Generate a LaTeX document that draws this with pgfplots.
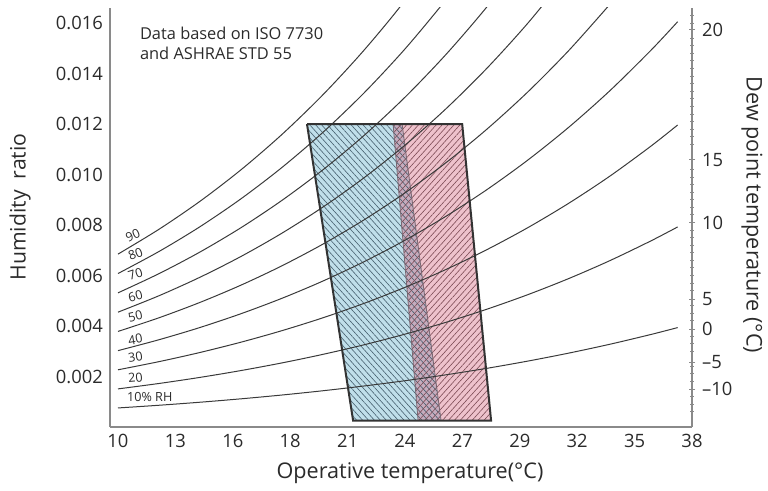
\documentclass[border=0pt]{standalone}
\usepackage{pgfplots}
\pgfplotsset{compat=1.18}
\usetikzlibrary{patterns.meta}
\usepackage{fontspec}
\setmainfont{Open Sans}

\definecolor{txt}{HTML}{2B2B2B}
\definecolor{rhline}{HTML}{3A3A3A}
\definecolor{axline}{HTML}{8A8A8A}
\definecolor{zoneblue}{RGB}{192,223,234}
\definecolor{zonepink}{RGB}{238,194,204}
\definecolor{zonemix}{RGB}{198,172,190}
\definecolor{hatchblue}{RGB}{70,95,110}
\definecolor{hatchpink}{RGB}{125,75,85}
\definecolor{edge}{HTML}{333333}

\pgfplotsset{rh/.style={rhline, line width=0.5pt, smooth, mark=none, solid}}

\begin{document}
\begin{tikzpicture}
\begin{axis}[
    name=main,
    width=291pt, height=209.5pt, scale only axis,
    xmin=9.61, xmax=38, ymin=0, ymax=0.0166,
    axis x line*=bottom, axis y line*=left,
    axis line style={axline, line width=0.6pt, -},
    every outer x axis line/.append style={-},
    every outer y axis line/.append style={-},
    major tick length=0pt,
    xtick={10,12.8,15.6,18.4,21.2,24,26.8,29.6,32.4,35.2,38},
    xticklabels={10,13,16,18,21,24,27,29,32,35,38},
    ytick={0.002,0.004,0.006,0.008,0.010,0.012,0.014,0.016},
    yticklabels={0.002,0.004,0.006,0.008,0.010,0.012,0.014,0.016},
    tick label style={font=\fontsize{9.2}{11}\selectfont, text=txt},
    xlabel={Operative temperature(°C)},
    xlabel style={at={(axis description cs:0.5155,-0.110)}, anchor=center,
                  font=\fontsize{10.8}{12}\selectfont, text=txt},
    ylabel={Humidity\ \ ratio},
    ylabel style={at={(axis description cs:-0.1546,0.525)}, anchor=center,
                  font=\fontsize{10.6}{12}\selectfont, text=txt},
    clip mode=individual,
]
% comfort zones
\addplot[draw=none, fill=zoneblue, sharp plot] coordinates {(19.22,0.012) (23.86,0.012) (25.76,0.00025) (21.47,0.00025)};
\addplot[draw=none, fill=zonepink, sharp plot] coordinates {(23.42,0.012) (26.79,0.012) (28.20,0.00025) (24.64,0.00025)};
\addplot[draw=none, fill=zonemix, sharp plot] coordinates {(23.42,0.012) (23.86,0.012) (25.76,0.00025) (24.64,0.00025)};
\addplot[draw=none, sharp plot, pattern={Lines[angle=-48,distance=2.2pt,line width=0.3pt]}, pattern color=hatchblue]
    coordinates {(19.22,0.012) (23.86,0.012) (25.76,0.00025) (21.47,0.00025)};
\addplot[draw=none, sharp plot, pattern={Lines[angle=48,distance=2.2pt,line width=0.3pt]}, pattern color=hatchpink]
    coordinates {(23.42,0.012) (26.79,0.012) (28.20,0.00025) (24.64,0.00025)};
\addplot[zonemix!60!black, line width=0.4pt, sharp plot] coordinates {(23.42,0.012) (24.64,0.00025)};
\addplot[zonemix!60!black, line width=0.4pt, sharp plot] coordinates {(23.86,0.012) (25.76,0.00025)};

% relative humidity curves
\addplot[rh] coordinates {(10,0.000754)(12,0.000861)(14,0.000981)(16,0.001116)(18,0.001267)(20,0.001436)(22,0.001624)(24,0.001833)(26,0.002067)(28,0.002325)(30,0.002612)(32,0.002929)(34,0.003279)(36,0.003666)(37.3,0.003938)};
\addplot[rh] coordinates {(10,0.001509)(12,0.001724)(14,0.001965)(16,0.002236)(18,0.002539)(20,0.002878)(22,0.003256)(24,0.003678)(26,0.004147)(28,0.004668)(30,0.005245)(32,0.005885)(34,0.006593)(36,0.007375)(37.3,0.007926)};
\addplot[rh] coordinates {(10,0.002266)(12,0.002589)(14,0.002952)(16,0.003360)(18,0.003817)(20,0.004327)(22,0.004897)(24,0.005533)(26,0.006241)(28,0.007028)(30,0.007901)(32,0.008870)(34,0.009942)(36,0.011129)(37.3,0.011965)};
\addplot[rh] coordinates {(10,0.003025)(12,0.003457)(14,0.003942)(16,0.004488)(18,0.005099)(20,0.005783)(22,0.006547)(24,0.007399)(26,0.008349)(28,0.009406)(30,0.010580)(32,0.011883)(34,0.013327)(36,0.014927)(37.3,0.016056)};
\addplot[rh] coordinates {(10,0.003786)(12,0.004327)(14,0.004936)(16,0.005620)(18,0.006387)(20,0.007246)(22,0.008205)(24,0.009277)(26,0.010472)(28,0.011802)(30,0.013281)(32,0.014925)(34,0.016749)};
\addplot[rh] coordinates {(10,0.004549)(12,0.005200)(14,0.005933)(16,0.006756)(18,0.007680)(20,0.008715)(22,0.009872)(24,0.011166)(26,0.012608)(28,0.014216)(30,0.016006)(32,0.017996)};
\addplot[rh] coordinates {(10,0.005314)(12,0.006075)(14,0.006932)(16,0.007896)(18,0.008979)(20,0.010191)(22,0.011548)(24,0.013065)(26,0.014760)(28,0.016649)(30,0.018754)};
\addplot[rh] coordinates {(10,0.006080)(12,0.006953)(14,0.007935)(16,0.009041)(18,0.010283)(20,0.011675)(22,0.013233)(24,0.014977)(26,0.016926)(28,0.019000)};
\addplot[rh] coordinates {(10,0.006849)(12,0.007833)(14,0.008942)(16,0.010190)(18,0.011592)(20,0.013165)(22,0.014927)(24,0.016900)(26,0.019200)};

% zone outline
\addplot[edge, line width=1pt, sharp plot, mark=none] coordinates {(19.22,0.012) (26.79,0.012) (28.20,0.00025) (21.47,0.00025) (19.22,0.012)};

% curve labels
\begin{scope}[every node/.style={font=\fontsize{6.3}{7}\selectfont, text=txt, inner sep=0pt}]
\node[rotate=24] at (axis cs:10.72,0.007600) {90};
\node[rotate=21] at (axis cs:10.85,0.006860) {80};
\node[rotate=18] at (axis cs:10.85,0.006060) {70};
\node[rotate=15] at (axis cs:10.85,0.005190) {60};
\node[rotate=13] at (axis cs:10.85,0.004390) {50};
\node[rotate=10] at (axis cs:10.85,0.003470) {40};
\node[rotate=8] at (axis cs:10.85,0.002760) {30};
\node[rotate=5] at (axis cs:10.85,0.001960) {20};
\node at (axis cs:11.55,0.001170) {10\% RH};
\end{scope}

\node[anchor=west, align=left, font=\fontsize{8.2}{10}\selectfont, text=txt]
    at (axis cs:10.73,0.01521) {Data based on ISO 7730\\and ASHRAE STD 55};
\end{axis}

\begin{axis}[
    width=291pt, height=209.5pt, scale only axis,
    xmin=9.61, xmax=38, ymin=0, ymax=0.0166,
    axis x line=none, axis y line*=right,
    axis line style={axline, line width=1pt, -},
    every outer y axis line/.append style={-},
    ytick={0.00150,0.00257,0.00387,0.00506,0.00810,0.01059,0.01573},
    yticklabels={–10,–5,0,5,10,15,20},
    minor ytick={0.0006,0.0009,0.0012,0.0018,0.0021,0.0024,0.0030,0.0033,0.0036,0.0042,0.0045,0.0048,0.0054,0.0057,0.0060,0.0063,0.0066,0.0069,0.0072,0.0075,0.0078,0.0084,0.0087,0.0090,0.0093,0.0096,0.0099,0.0102,0.0112,0.0115,0.0118,0.0121,0.0124,0.0127,0.0130,0.0133,0.0136,0.0139,0.0142,0.0145,0.0148,0.0151,0.0154,0.0160,0.0163},
    tick align=center,
    major tick length=3pt, minor tick length=1.6pt,
    tick style={axline, line width=0.5pt},
    tick label style={font=\fontsize{9.2}{11}\selectfont, text=txt},
    ylabel={Dew point temperature (°C)},
    ylabel style={at={(axis description cs:1.103,0.506)}, anchor=center, rotate=180,
                  font=\fontsize{10.8}{12}\selectfont, text=txt},
]
\end{axis}

\pgfresetboundingbox
\path ([shift={(-55pt,-32pt)}]main.south west) rectangle ([shift={(38pt,4pt)}]main.north east);
\end{tikzpicture}
\end{document}
